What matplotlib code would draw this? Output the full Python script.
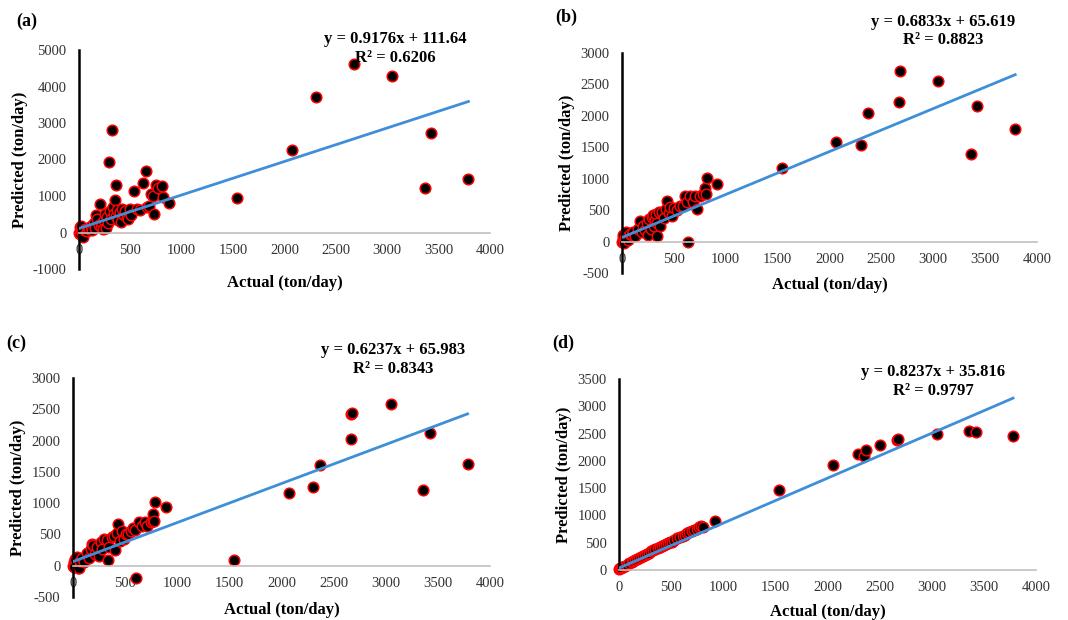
import numpy as np
import matplotlib
matplotlib.use("Agg")
import matplotlib.pyplot as plt

plt.rcParams['font.family'] = ['Liberation Serif', 'DejaVu Serif']
plt.rcParams['axes.unicode_minus'] = False

## data (actual vs predicted, ton/day)
a_actual = [0, 5, 10, 15, 20, 30, 40, 50, 60, 75, 90, 100, 120, 130, 150, 160, 170, 180, 190, 200,
            210, 220, 230, 240, 250, 260, 270, 280, 289, 300, 310, 320, 330, 340, 350, 357, 360, 373,
            380, 400, 410, 420, 440, 450, 470, 480, 500, 509, 535, 560, 594, 626, 649, 660, 684, 700,
            723, 733, 750, 770, 805, 820, 880, 1540, 2070, 2310, 2680, 3050, 3370, 3430, 3790]
a_pred = [0, 150, -50, 80, 180, 20, -120, 60, 100, 40, 120, 90, 180, 60, 250, 120, 480, 380, 200, 780,
          150, 260, 100, 330, 500, 120, 420, 250, 1930, 600, 380, 2820, 700, 520, 900, 1290, 450, 620,
          350, 560, 300, 650, 480, 600, 420, 380, 640, 490, 1130, 640, 630, 1360, 1690, 700, 720, 1050,
          990, 510, 1310, 1220, 1270, 960, 820, 950, 2270, 3700, 4630, 4280, 1220, 2720, 1460]

b_actual = [0, 5, 10, 20, 30, 40, 50, 60, 80, 100, 110, 130, 150, 170, 190, 200, 220, 240, 248, 260,
            280, 290, 300, 311, 320, 329, 334, 340, 360, 370, 383, 400, 420, 437, 450, 463, 480, 500,
            527, 560, 591, 610, 630, 639, 660, 681, 704, 726, 752, 780, 800, 810, 822, 919,
            1540, 2060, 2300, 2370, 2670, 2680, 3050, 3360, 3420, 3790]
b_pred = [0, 60, 100, -20, 50, 150, 80, 20, 120, 100, 160, 90, 200, 320, 150, 250, 180, 300, 100, 360,
          200, 390, 420, 240, 350, 440, 96, 300, 470, 250, 470, 380, 520, 642, 450, 545, 400, 530,
          497, 560, 561, 730, 630, 0, 720, 625, 730, 518, 730, 760, 855, 760, 1015, 909,
          1170, 1580, 1540, 2040, 2220, 2720, 2560, 1400, 2160, 1790]

c_actual = [0, 5, 10, 20, 35, 50, 58, 70, 90, 110, 130, 150, 170, 180, 195, 210, 230, 250, 270, 281,
            300, 323, 339, 350, 370, 398, 401, 420, 435, 450, 467, 490, 510, 531, 560, 575, 598, 630,
            604, 660, 694, 713, 745, 770, 770, 775, 786, 892,
            1540, 2070, 2300, 2370, 2665, 2670, 2680, 3050, 3360, 3425, 3785]
c_pred = [0, 60, -20, 100, 140, -40, -37, 80, 130, 60, 200, 120, 270, 350, 335, 180, 300, 150, 380, 270,
          420, 415, 96, 300, 460, 480, 250, 530, 665, 400, 548, 420, 510, 510, 560, 600, 575, 700,
          -190, 640, 700, 628, 700, 720, 830, 720, 1020, 945,
          96, 1170, 1265, 1610, 2020, 2420, 2440, 2585, 1210, 2120, 1620]

d_actual = [0, 10, 20, 30, 40, 60, 80, 100, 120, 137, 150, 170, 190, 210, 230, 250, 270, 290, 310, 329,
            350, 370, 390, 410, 430, 450, 470, 490, 505, 530, 560, 585, 610, 630, 649, 670, 700, 720,
            750, 770, 790, 808, 923,
            1535, 2055, 2290, 2350, 2370, 2505, 2670, 2680, 3055, 3360, 3420, 3780]
d_pred = [10, 30, 40, 50, 60, 80, 100, 120, 140, 160, 180, 200, 215, 240, 255, 280, 300, 320, 340, 366,
          385, 400, 420, 440, 460, 480, 500, 510, 518, 545, 580, 610, 620, 650, 671, 690, 720, 740,
          760, 780, 800, 792, 902,
          1465, 1920, 2125, 2090, 2195, 2290, 2385, 2400, 2500, 2545, 2520, 2460]

slopes = [0.9176, 0.6833, 0.6237, 0.8237]
intercepts = [111.64, 65.619, 65.983, 35.816]
eq_texts = ['y = 0.9176x + 111.64', 'y = 0.6833x + 65.619', 'y = 0.6237x + 65.983', 'y = 0.8237x + 35.816']
r2_texts = ['R\u00b2 = 0.6206', 'R\u00b2 = 0.8823', 'R\u00b2 = 0.8343', 'R\u00b2 = 0.9797']
panel_tags = ['(a)', '(b)', '(c)', '(d)']
y_ranges = [(-1000, 5000, 1000), (-500, 3000, 500), (-500, 3000, 500), (0, 3500, 500)]

W, H = 1068, 620
# axes boxes in pixels: left, top, right, bottom
boxes = [(79, 50, 490, 269), (622, 53, 1037, 273), (73, 378, 490, 597), (619, 379, 1036, 570)]
# text spots in pixels
eq_pos = [(395, 39, 58), (943, 22, 40), (393, 350, 369), (933, 372, 391)]
tag_pos = [(27, 21), (566, 17), (16, 343), (563, 343)]
xlab_y = [283, 285, 610, 612]
ylab_x = [20, 567, 18, 564]

fig = plt.figure(figsize=(W / 100, H / 100), dpi=100)

data = [(a_actual, a_pred), (b_actual, b_pred), (c_actual, c_pred), (d_actual, d_pred)]

for i in range(4):
    l, t, r, b = boxes[i]
    ax = fig.add_axes([l / W, 1 - b / H, (r - l) / W, (b - t) / H])
    xs, ys = data[i]
    ax.scatter(xs, ys, s=58, c='black', edgecolors='#ff0000', linewidths=1.1,
               zorder=2, clip_on=False)
    xl = np.array([0, max(xs)])
    ax.plot(xl, slopes[i] * xl + intercepts[i], color='#3f8fd8', lw=2, zorder=3)

    lo, hi, st = y_ranges[i]
    ax.set_xlim(0, 4000)
    ax.set_ylim(lo, hi)
    ax.set_xticks(np.arange(0, 4001, 500))
    ax.set_yticks(np.arange(lo, hi + 1, st))
    for s in ['top', 'right']:
        ax.spines[s].set_visible(False)
    ax.spines['left'].set_color('black')
    ax.spines['left'].set_linewidth(1.8)
    ax.spines['bottom'].set_position(('data', 0))
    ax.spines['bottom'].set_color('#c0c0c0')
    ax.spines['bottom'].set_linewidth(1.2)
    ax.tick_params(axis='both', length=0, labelsize=10.5, labelcolor='#333333')
    ax.tick_params(axis='x', pad=8)
    ax.tick_params(axis='y', pad=9)

    # axis titles
    fig.text(((l + r) / 2) / W, 1 - xlab_y[i] / H, 'Actual (ton/day)', fontsize=12,
             fontweight='bold', ha='center', va='center')
    fig.text(ylab_x[i] / W, 1 - ((t + b) / 2) / H, 'Predicted (ton/day)', fontsize=12,
             fontweight='bold', ha='center', va='center', rotation=90)

    ex, ey1, ey2 = eq_pos[i]
    fig.text(ex / W, 1 - ey1 / H, eq_texts[i], fontsize=12, fontweight='bold',
             ha='center', va='center')
    fig.text(ex / W, 1 - ey2 / H, r2_texts[i], fontsize=12, fontweight='bold',
             ha='center', va='center')
    fig.text(tag_pos[i][0] / W, 1 - tag_pos[i][1] / H, panel_tags[i], fontsize=13,
             fontweight='bold', ha='center', va='center')

fig.savefig('out.png', dpi=100)
